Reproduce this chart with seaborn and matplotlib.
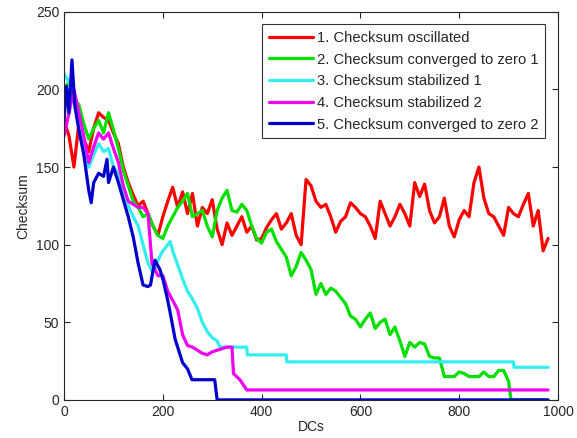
import numpy as np
import pandas as pd
import matplotlib
matplotlib.use("Agg")
import matplotlib.pyplot as plt
import seaborn as sns

# DCs / checksum values
dc_red = list(range(0, 990, 10))
checksum_red = [180, 170, 150, 178, 168, 160, 175, 185, 182, 180,
                172, 165, 150, 140, 132, 125, 128, 120, 112, 106,
                118, 128, 137, 124, 134, 120, 133, 112, 124, 120,
                129, 110, 100, 114, 106, 112, 118, 108, 112, 103,
                104, 111, 116, 120, 110, 114, 120, 106, 100, 142,
                138, 128, 124, 126, 118, 108, 115, 118, 127, 124,
                120, 118, 112, 104, 128, 120, 112, 118, 126, 120,
                112, 140, 131, 139, 122, 114, 118, 130, 112, 105,
                116, 122, 118, 140, 150, 130, 120, 118, 112, 106,
                124, 120, 118, 126, 133, 112, 122, 96, 104]

dc_green = list(range(0, 910, 10)) + [905, 980]
checksum_green = [200, 205, 195, 190, 178, 168, 175, 180, 172, 185,
                  174, 162, 148, 138, 128, 124, 118, 120, 112, 106,
                  104, 112, 118, 124, 128, 133, 118, 120, 122, 112,
                  105, 122, 130, 135, 122, 121, 126, 122, 112, 104,
                  101, 108, 110, 102, 97, 92, 80, 86, 95, 90,
                  84, 68, 75, 68, 72, 70, 66, 62, 54, 52,
                  47, 52, 56, 46, 50, 52, 42, 47, 38, 28,
                  37, 34, 37, 36, 28, 27, 27, 15, 15, 15,
                  18, 17, 15, 15, 15, 18, 15, 15, 19, 19,
                  12, 0, 0]

dc_cyan = [0, 10, 20, 30, 40, 50, 60, 70, 80, 90, 100, 110, 120, 130, 140,
           150, 160, 170, 180, 190, 200, 210, 215, 220, 230, 240, 250, 260,
           270, 280, 290, 300, 310, 316, 370, 371, 450, 451, 910, 911, 980]
checksum_cyan = [210, 205, 198, 185, 160, 150, 158, 165, 160, 162, 150, 146,
                 135, 125, 118, 112, 100, 88, 82, 90, 96, 100, 102, 96, 87,
                 78, 70, 65, 59, 50, 44, 40, 38, 34, 34, 29, 29, 24.5, 24.5,
                 21, 21]

dc_magenta = [0, 10, 20, 30, 40, 50, 60, 70, 80, 90, 100, 110, 120, 130, 140,
              150, 160, 170, 178, 190, 200, 210, 220, 230, 240, 250, 260, 270,
              280, 290, 300, 310, 320, 330, 340, 343, 356, 370, 980]
checksum_magenta = [170, 185, 200, 185, 170, 153, 163, 172, 168, 172, 162, 153,
                    138, 128, 126, 124, 124, 120, 88, 80, 80, 70, 64, 58, 42,
                    35, 34, 32, 30, 29, 31, 32, 33, 34, 34, 17, 13, 6.4, 6.4]

dc_blue = [0, 5, 10, 16, 22, 30, 40, 50, 55, 60, 70, 80, 87, 90, 100, 110,
           120, 130, 140, 150, 160, 170, 175, 184, 194, 200, 210, 215, 225,
           240, 250, 259, 305, 310, 980]
checksum_blue = [180, 202, 185, 219, 189, 174, 158, 135, 127, 140, 146, 144,
                 155, 140, 150, 140, 129, 118, 105, 88, 74, 73, 74, 90, 84,
                 78, 64, 56, 39, 24, 20, 13, 13, 0, 0]

labels = ["1. Checksum oscillated",
          "2. Checksum converged to zero 1",
          "3. Checksum stabilized 1",
          "4. Checksum stabilized 2",
          "5. Checksum converged to zero 2"]
colors = ["#ff0000", "#00e000", "#33eeee", "#f000f0", "#0000cc"]

series = [(dc_red, checksum_red), (dc_green, checksum_green),
          (dc_cyan, checksum_cyan), (dc_magenta, checksum_magenta),
          (dc_blue, checksum_blue)]

sns.set_style("ticks")
plt.rcParams['font.family'] = ['Liberation Sans', 'DejaVu Sans']
plt.rcParams['xtick.direction'] = 'in'
plt.rcParams['ytick.direction'] = 'in'

fig, ax = plt.subplots(figsize=(5.77, 4.38), dpi=100)
fig.subplots_adjust(left=0.111, right=0.967, top=0.973, bottom=0.087)

for (x, y), lab, col in zip(series, labels, colors):
    df = pd.DataFrame({"DCs": x, "Checksum": y})
    sns.lineplot(data=df, x="DCs", y="Checksum", ax=ax, color=col, lw=2.3,
                 label=lab, estimator=None, sort=False)

ax.set_xlim(0, 1000)
ax.set_ylim(0, 250)
ax.set_xticks(range(0, 1001, 200))
ax.set_yticks(range(0, 251, 50))
ax.tick_params(top=True, right=True, labelsize=10, length=4, width=0.8)
for s in ax.spines.values():
    s.set_linewidth(0.8)
ax.set_xlabel("DCs", fontsize=10, labelpad=1)
ax.set_ylabel("Checksum", fontsize=10)

leg = ax.legend(loc="upper right", fontsize=10.6, handlelength=3.0,
                frameon=True, fancybox=False, edgecolor="black",
                borderaxespad=0.85, labelspacing=0.52, handletextpad=0.3,
                borderpad=0.45)
leg.get_frame().set_linewidth(0.8)

fig.savefig("out.png", dpi=100)
